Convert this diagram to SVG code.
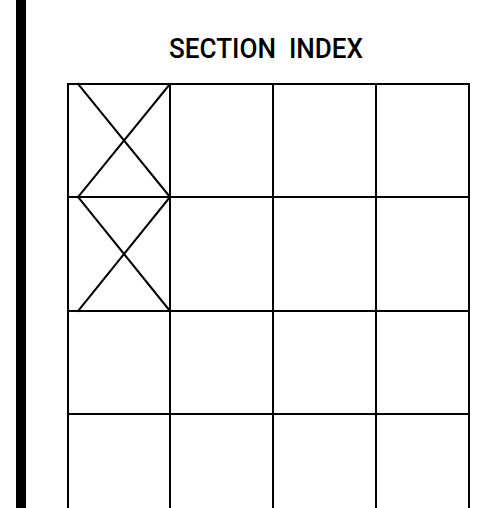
<svg xmlns="http://www.w3.org/2000/svg" width="483" height="508" viewBox="0 0 483 508">
<style>
.g{stroke:#000;stroke-width:2;fill:none;stroke-linecap:square}
.t{font-family:Roboto,"DejaVu Sans","Liberation Sans",sans-serif;font-size:28.5px;font-weight:500;fill:#000}
</style>
<rect width="483" height="508" fill="#fff"/>
<rect id="bar" x="16" y="0" width="10" height="508" fill="#000"/>
<text id="title" class="t" x="169" y="58" textLength="194" lengthAdjust="spacingAndGlyphs" xml:space="preserve">SECTION  INDEX</text>
<g id="grid" class="g">
<path d="M68,84H469M68,197H469M68,311H469M68,414H469"/>
<path d="M68,84V508M170,84V508M273,84V508M376,84V508M469,84V508"/>
</g>
<g id="crosses" class="g">
<path d="M78,84L170,197M170,84L78,197"/>
<path d="M78,197L170,311M170,197L78,311"/>
</g>
</svg>
